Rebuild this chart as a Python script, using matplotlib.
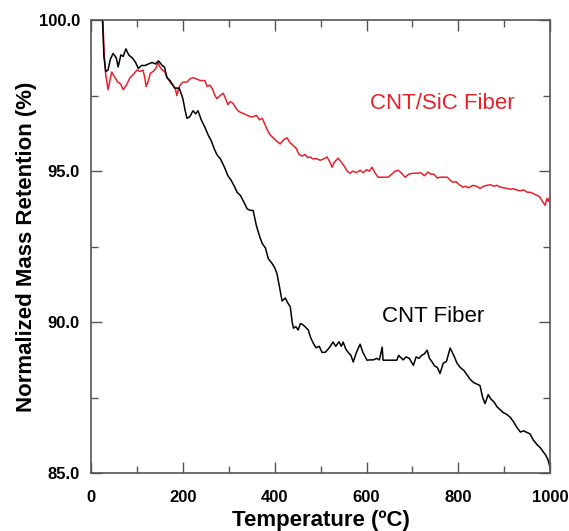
import matplotlib.pyplot as plt

plt.rcParams['font.family'] = ['Liberation Sans', 'DejaVu Sans']

# CNT Fiber (black)
cnt_temp = [25, 28, 32, 37, 42, 48, 55, 59, 65, 70, 76, 82, 90, 97, 103, 110, 118, 125,
            133, 140, 147, 155, 160, 165, 172, 178, 183, 192, 200, 205, 209, 215, 222, 228,
            233, 240, 248, 255, 262, 268, 274, 282, 290, 298, 305, 312, 318, 325, 332, 340,
            347, 353, 360, 368, 373, 380, 386, 394, 400, 405, 410, 416, 423, 428, 434, 438,
            441, 446, 451, 456, 460, 466, 473, 478, 484, 490, 497, 503, 510, 516, 521, 527,
            533, 540, 545, 549, 555, 560, 566, 571, 578, 586, 592, 601, 608, 615, 622, 628,
            634, 636, 645, 655, 666, 670, 673, 680, 686, 693, 702, 708, 714, 720, 726, 732,
            737, 742, 748, 754, 760, 767, 774, 782, 790, 797, 804, 812, 819, 826, 833, 840,
            847, 853, 858, 865, 871, 878, 884, 891, 898, 905, 913, 920, 928, 935, 942, 949,
            956, 963, 972, 978, 985, 990, 995, 1000]
cnt_mass = [100.0, 98.8, 98.3, 98.35, 98.7, 98.9, 98.75, 98.45, 98.85, 98.8, 99.05, 98.85,
            98.75, 98.6, 98.4, 98.5, 98.5, 98.55, 98.6, 98.55, 98.65, 98.5, 98.45, 98.1, 98.0,
            97.85, 97.75, 97.75, 97.4, 97.0, 96.75, 96.8, 97.0, 96.9, 97.0, 96.7, 96.45, 96.2,
            96.0, 95.75, 95.55, 95.4, 95.15, 94.85, 94.7, 94.5, 94.3, 94.2, 94.0, 93.75, 93.7,
            93.7, 93.2, 92.8, 92.6, 92.45, 92.1, 91.95, 91.8, 91.6, 91.2, 90.7, 90.8, 90.65,
            90.5, 90.0, 89.8, 89.85, 89.74, 89.95, 89.93, 89.85, 89.74, 89.5, 89.3, 89.15,
            89.2, 89.0, 89.0, 89.1, 89.2, 89.34, 89.2, 89.35, 89.2, 89.34, 89.1, 89.0, 88.9,
            88.68, 89.0, 89.27, 89.0, 88.74, 88.75, 88.75, 88.8, 88.75, 89.17, 88.74, 88.74,
            88.74, 88.74, 88.9, 88.85, 88.75, 88.85, 88.8, 88.57, 88.85, 88.8, 88.9, 88.95,
            89.07, 88.8, 88.7, 88.55, 88.5, 88.3, 88.64, 88.7, 89.14, 88.9, 88.64, 88.5, 88.4,
            88.25, 88.1, 88.0, 87.95, 87.9, 87.5, 87.3, 87.6, 87.45, 87.35, 87.2, 87.1, 87.0,
            86.95, 86.85, 86.7, 86.5, 86.36, 86.4, 86.35, 86.3, 86.1, 85.93, 85.85, 85.7,
            85.6, 85.45, 85.17]

# CNT/SiC Fiber (red)
sic_temp = [26, 27, 29, 32, 37, 41, 45, 52, 58, 64, 70, 77, 85, 92, 100, 107, 113, 117, 120,
            125, 129, 135, 141, 146, 150, 155, 161, 166, 172, 178, 184, 187, 190, 194, 200,
            209, 215, 222, 230, 238, 244, 248, 253, 259, 265, 270, 274, 281, 288, 293, 298,
            303, 309, 315, 320, 325, 333, 340, 347, 353, 360, 367, 373, 380, 386, 390, 397,
            404, 412, 420, 427, 433, 440, 447, 453, 460, 466, 472, 477, 484, 490, 499, 506,
            514, 520, 525, 530, 538, 545, 552, 558, 564, 570, 578, 586, 593, 600, 606, 612,
            618, 625, 635, 647, 655, 662, 669, 675, 684, 692, 700, 710, 718, 726, 734, 740,
            747, 754, 760, 768, 776, 782, 789, 795, 802, 810, 816, 822, 832, 840, 847, 855,
            862, 870, 877, 884, 890, 897, 906, 913, 920, 928, 935, 942, 950, 957, 964, 971,
            977, 983, 989, 993, 996, 998]
sic_mass = [100.0, 99.5, 98.8, 98.2, 97.7, 98.0, 98.28, 98.1, 97.95, 97.9, 97.7, 97.85, 98.1,
            98.2, 98.35, 98.3, 98.35, 98.1, 97.8, 98.0, 98.24, 98.3, 98.4, 98.6, 98.45, 98.35,
            98.28, 98.1, 97.95, 97.85, 97.7, 97.5, 97.7, 97.85, 97.95, 97.95, 98.05, 98.1,
            98.05, 98.0, 98.0, 98.0, 97.8, 97.85, 97.7, 97.5, 97.4, 97.5, 97.58, 97.4, 97.2,
            97.3, 97.25, 97.1, 97.0, 96.95, 96.9, 96.85, 96.8, 96.8, 96.85, 96.7, 96.75, 96.5,
            96.3, 96.2, 96.1, 96.0, 95.9, 96.05, 96.1, 95.95, 95.85, 95.75, 95.55, 95.5, 95.55,
            95.45, 95.47, 95.4, 95.42, 95.36, 95.4, 95.47, 95.3, 95.13, 95.3, 95.43, 95.3,
            95.15, 95.0, 94.93, 95.0, 94.95, 95.03, 94.95, 95.05, 95.0, 95.13, 94.95, 94.8,
            94.8, 94.8, 94.9, 95.0, 95.03, 94.95, 94.8, 94.9, 94.93, 94.93, 94.95, 94.85,
            94.97, 94.9, 94.9, 94.77, 94.8, 94.8, 94.8, 94.7, 94.63, 94.65, 94.55, 94.47, 94.5,
            94.45, 94.53, 94.5, 94.43, 94.5, 94.53, 94.55, 94.5, 94.53, 94.48, 94.45, 94.43,
            94.4, 94.42, 94.37, 94.35, 94.38, 94.3, 94.3, 94.25, 94.2, 94.15, 94.0, 93.87,
            94.1, 94.0, 94.1]

fig = plt.figure(figsize=(5.69, 5.31), dpi=100)
ax = fig.add_axes([0.160, 0.109, 0.807, 0.853])

ax.plot(sic_temp, sic_mass, color='#e8202a', lw=1.1)
ax.plot(cnt_temp, cnt_mass, color='black', lw=1.1)

ax.text(765, 97.25, 'CNT/SiC Fiber', color='#e8202a', fontsize=16, ha='center', va='center')
ax.text(745, 90.2, 'CNT Fiber', color='black', fontsize=16, ha='center', va='center')

ax.set_xlim(0, 1000)
ax.set_ylim(85, 100)
ax.set_xticks([0, 200, 400, 600, 800, 1000])
ax.set_xticks(range(100, 1000, 200), minor=True)
ax.set_yticks([85, 90, 95, 100])
ax.set_yticklabels(['85.0', '90.0', '95.0', '100.0'])
ax.set_yticks([87.5, 92.5, 97.5], minor=True)

ax.tick_params(which='both', direction='in', top=True, right=True, color='#555555', width=1)
ax.tick_params(which='major', length=8, labelsize=12)
ax.tick_params(which='minor', length=5)
ax.tick_params(axis='x', pad=12)
ax.tick_params(axis='y', pad=8)
for lab in ax.get_xticklabels() + ax.get_yticklabels():
    lab.set_fontweight('bold')
for s in ax.spines.values():
    s.set_color('#555555')
    s.set_linewidth(1.2)

ax.set_xlabel('Temperature (ºC)', fontsize=16, fontweight='bold', labelpad=4)
ax.set_ylabel('Normalized Mass Retention (%)', fontsize=16, fontweight='bold', labelpad=1)

fig.savefig('out.png', dpi=100)
